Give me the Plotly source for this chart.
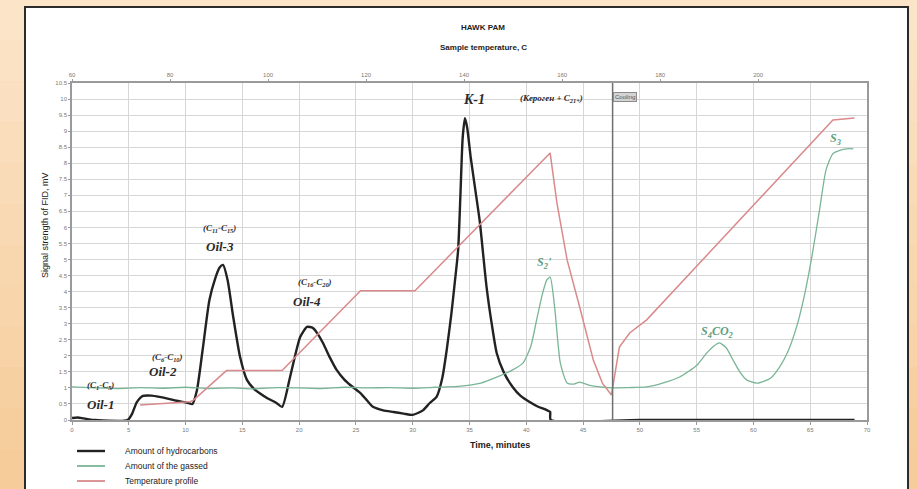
import plotly.graph_objects as go

W, H = 917, 489

# ---- Pyrolysis run data (time in minutes, signal in mV) ----
hc_time = [0, 0.5, 1.0, 1.5, 2.0, 4.9, 5.3, 5.7, 6.25, 7.0, 7.7, 8.5, 9.2, 10.0, 10.6,
           11.0, 11.5, 12.1, 12.6, 13.0, 13.3, 13.7, 14.2, 14.8, 15.4, 16.0, 16.5, 17.2,
           18.0, 18.5, 19.2, 20.1, 20.7, 21.2, 21.6, 22.1, 22.7, 23.3, 24.0, 24.5, 25.0,
           25.4, 26.0, 26.5, 27.4, 28.3, 29.2, 30.0, 30.9, 31.5, 32.1, 32.6, 33.0, 33.4,
           33.7, 34.0, 34.2, 34.4, 34.6, 34.8, 35.1, 35.5, 35.9, 36.5, 37.0, 37.4, 38.0,
           38.8, 39.5, 40.3, 41.0, 41.8, 42.1, 42.15, 50.0, 60.0, 68.9]
hc_signal = [0.06, 0.08, 0.05, 0.02, 0.0, 0.0, 0.2, 0.55, 0.75, 0.76, 0.72, 0.66, 0.6, 0.55, 0.5,
             0.93, 2.18, 3.74, 4.4, 4.75, 4.83, 4.36, 3.2, 1.96, 1.25, 0.98, 0.84, 0.68,
             0.53, 0.41, 1.34, 2.59, 2.9, 2.87, 2.7, 2.4, 1.95, 1.56, 1.25, 1.09, 0.95,
             0.84, 0.6, 0.41, 0.3, 0.25, 0.2, 0.16, 0.3, 0.53, 0.72, 1.3, 2.2, 3.3,
             4.27, 5.3, 7.0, 8.8, 9.4, 9.1, 8.2, 7.2, 6.2, 4.15, 2.9, 2.08, 1.5,
             1.03, 0.75, 0.56, 0.42, 0.31, 0.25, 0.0, 0.0, 0.0, 0.0]

gas_time = [0, 2, 4, 6, 8, 10, 12, 14, 16, 18, 20, 22, 24, 26, 28, 30, 32, 34, 36,
            37.5, 38.8, 39.7, 40.4, 40.9, 41.4, 41.8, 42.1, 42.5, 43.0, 43.6, 44.2, 44.7,
            45.5, 46.5, 47.6, 49.0, 50.6, 52.0, 53.5, 55.0, 55.9, 56.5, 57.0, 57.6, 58.2,
            58.8, 59.4, 60.3, 61.5, 62.3, 63.0, 63.8, 64.5, 65.2, 65.8, 66.4, 67.0, 67.6,
            68.2, 68.8]
gas_signal = [1.03, 1.0, 0.98, 1.01, 0.99, 1.02, 0.98, 1.0, 0.97, 1.01, 1.0, 0.98, 1.02, 1.0,
              1.01, 0.99, 1.02, 1.05, 1.15, 1.35, 1.56, 1.77, 2.3, 3.1, 3.9, 4.36, 4.45, 3.5,
              1.77, 1.15, 1.12, 1.18, 1.09, 1.03, 1.0, 1.01, 1.03, 1.15, 1.34, 1.7, 2.09, 2.3,
              2.4, 2.25, 1.87, 1.5, 1.25, 1.15, 1.3, 1.65, 2.1, 2.9, 3.9, 5.2, 6.5, 7.8, 8.3,
              8.4, 8.45, 8.45]

temp_time = [6.0, 10.4, 10.7, 13.6, 18.5, 25.4, 30.2, 42.1, 42.7, 43.6, 44.7, 45.9, 46.7,
             47.5, 48.2, 49.1, 50.6, 67.0, 68.9]
temp_signal = [0.47, 0.57, 0.62, 1.54, 1.54, 4.03, 4.03, 8.32, 6.76, 4.98, 3.52, 1.87, 1.15,
               0.78, 2.27, 2.71, 3.12, 9.35, 9.41]

series_names = ["Amount of hydrocarbons", "Amount of the gassed", "Temperature profile"]

# Sample temperature scale (top axis, C)
temp_axis_ticks = [60, 80, 100, 120, 140, 160, 180, 200]
temp_axis_range = [60, 222.2]

cooling_start = 47.6

# Peak labels: (time, signal, text, colour, size)
peak_labels = [
    (2.5, 1.09, "(C<sub>1</sub>-C<sub>5</sub>)", "#2a2a2a", 9),
    (2.5, 0.47, "Oil-1", "#2a2a2a", 13),
    (8.4, 1.96, "(C<sub>6</sub>-C<sub>10</sub>)", "#2a2a2a", 9),
    (8.0, 1.5, "Oil-2", "#2a2a2a", 13),
    (13.0, 5.98, "(C<sub>11</sub>-C<sub>15</sub>)", "#2a2a2a", 9),
    (13.0, 5.42, "Oil-3", "#2a2a2a", 13),
    (21.4, 4.27, "(C<sub>16</sub>-C<sub>20</sub>)", "#2a2a2a", 9),
    (20.7, 3.68, "Oil-4", "#2a2a2a", 13),
    (35.4, 10.0, "K-1", "#2a2a2a", 14),
    (42.2, 10.02, "(Кероген + C<sub>21+</sub>)", "#2a2a2a", 9),
    (41.6, 4.9, "S<sub>2</sub>'", "#5f9f80", 12),
    (56.8, 2.74, "S<sub>4</sub>CO<sub>2</sub>", "#5f9f80", 12),
    (67.2, 8.75, "S<sub>3</sub>", "#5f9f80", 12),
]

BLACK = "#222222"
GREEN = "#79b595"
RED = "#d98a8c"
series_colors = [BLACK, GREEN, RED]
series_widths = [2.4, 1.3, 1.5]

fig = go.Figure()
fig.add_trace(go.Scatter(x=hc_time, y=hc_signal, mode="lines", name=series_names[0],
                         line=dict(color=BLACK, width=2.4, shape="spline", smoothing=0.6)))
fig.add_trace(go.Scatter(x=gas_time, y=gas_signal, mode="lines", name=series_names[1],
                         line=dict(color=GREEN, width=1.3, shape="spline", smoothing=0.6)))
fig.add_trace(go.Scatter(x=temp_time, y=temp_signal, mode="lines", name=series_names[2],
                         line=dict(color=RED, width=1.5)))
# carrier for the temperature scale on top
fig.add_trace(go.Scatter(x=temp_axis_ticks, y=[None] * len(temp_axis_ticks), xaxis="x2",
                         mode="lines", showlegend=False, hoverinfo="skip"))

x0p, x1p = 72 / W, 867 / W
y0p, y1p = 1 - 420 / H, 1 - 83 / H

tickfont = dict(family="Liberation Sans", size=6, color="#7a7a7a")
fig.update_layout(
    width=W, height=H,
    margin=dict(l=0, r=0, t=0, b=0, autoexpand=False),
    paper_bgcolor="#f9dbb6",
    plot_bgcolor="white",
    showlegend=False,
    xaxis=dict(domain=[x0p, x1p], range=[0, 70], dtick=5, tick0=0,
               showgrid=True, gridcolor="#d6d6d6", gridwidth=1,
               showline=True, linecolor="#9a9a9a", linewidth=1.5, mirror=True,
               ticks="outside", ticklen=3, tickcolor="#999", tickfont=tickfont, zeroline=False),
    xaxis2=dict(overlaying="x", side="top", anchor="y", range=temp_axis_range,
                tickvals=temp_axis_ticks, showgrid=False, ticks="outside", ticklen=3,
                tickcolor="#999", tickfont=tickfont, zeroline=False, showline=False),
    yaxis=dict(domain=[y0p, y1p], range=[0, 10.5], dtick=0.5, tick0=0,
               showgrid=True, gridcolor="#d6d6d6", gridwidth=1,
               showline=True, linecolor="#9a9a9a", linewidth=1.5, mirror=True,
               ticks="outside", ticklen=2, tickcolor="#999", tickfont=tickfont, zeroline=False),
)

# Background bands (soft vertical gradient) and white sheet with dark frame
top_rgb = (251, 228, 200)
bot_rgb = (246, 204, 154)
n_bands = 12
for i in range(n_bands):
    f = i / (n_bands - 1)
    c = tuple(round(top_rgb[k] + (bot_rgb[k] - top_rgb[k]) * f) for k in range(3))
    fig.add_shape(type="rect", xref="paper", yref="paper", layer="below",
                  x0=0, x1=1, y0=1 - (i + 1) / n_bands, y1=1 - i / n_bands,
                  fillcolor="rgb(%d,%d,%d)" % c, line_width=0)
fig.add_shape(type="rect", xref="paper", yref="paper", layer="below",
              x0=25 / W, x1=908 / W, y0=-0.02, y1=1 - 7 / H,
              fillcolor="white", line=dict(color="#2b2b2b", width=2))

# Compact key below the chart
for i, (name, col, lw) in enumerate(zip(series_names, series_colors, series_widths)):
    yk = 1 - (451 + 15 * i) / H
    fig.add_shape(type="line", xref="paper", yref="paper", x0=77 / W, x1=105 / W,
                  y0=yk, y1=yk, line=dict(color=col, width=max(lw, 1.8)))
    fig.add_annotation(x=123 / W, y=yk, xref="paper", yref="paper", xanchor="left",
                       yanchor="middle", text=name, showarrow=False,
                       font=dict(family="Liberation Sans", size=8.5, color="#222"))

# Start of cooling stage
fig.add_shape(type="line", xref="x", yref="paper", x0=cooling_start, x1=cooling_start,
              y0=y0p, y1=y1p, line=dict(color="#6f6f6f", width=1.5))
fig.add_annotation(x=cooling_start, y=10.05, xref="x", yref="y", xanchor="left",
                   yanchor="middle", text="Cooling", showarrow=False, bgcolor="#d4d4d4",
                   bordercolor="#8a8a8a", borderwidth=1, borderpad=1,
                   font=dict(family="Liberation Sans", size=6, color="#555"))

for t, v, txt, col, sz in peak_labels:
    fig.add_annotation(x=t, y=v, xref="x", yref="y", text="<b><i>%s</i></b>" % txt,
                       yanchor="middle", showarrow=False,
                       font=dict(family="Liberation Serif", size=sz, color=col))

# Titles
fig.add_annotation(x=483 / W, y=1 - 28 / H, xref="paper", yref="paper", text="<b>HAWK PAM</b>",
                   yanchor="middle", showarrow=False,
                   font=dict(family="Liberation Sans", size=8, color="#222"))
fig.add_annotation(x=483 / W, y=1 - 47 / H, xref="paper", yref="paper",
                   text="<b>Sample temperature, C</b>", yanchor="middle", showarrow=False,
                   font=dict(family="Liberation Sans", size=8, color="#222"))
fig.add_annotation(x=500 / W, y=1 - 445 / H, xref="paper", yref="paper",
                   text="<b>Time, minutes</b>", yanchor="middle", showarrow=False,
                   font=dict(family="Liberation Sans", size=9, color="#222"))
fig.add_annotation(x=45 / W, y=1 - 225 / H, xref="paper", yref="paper", textangle=-90,
                   text="Signal strength of FID, mV", xanchor="center", yanchor="middle",
                   showarrow=False, font=dict(family="Liberation Sans", size=9, color="#222"))

fig.write_html("out.html")
